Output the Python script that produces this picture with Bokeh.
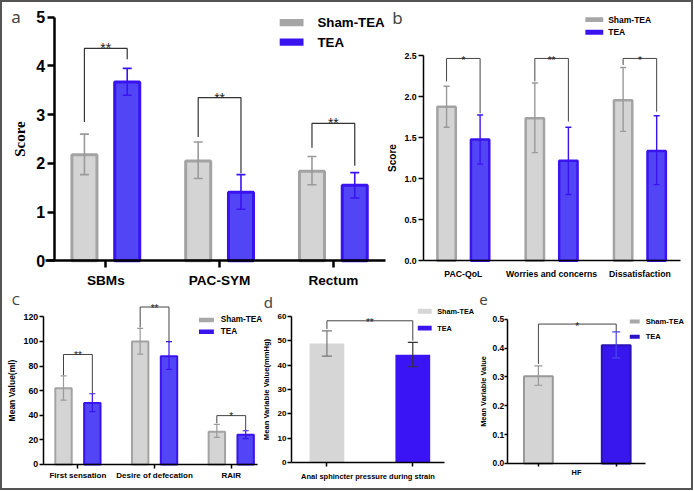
import numpy as np
from bokeh.plotting import figure
from bokeh.models import (ColumnDataSource, Whisker, TeeHead, Label,
                          FixedTicker, NumeralTickFormatter, Range1d)
from bokeh.layouts import column, row
from bokeh.embed import file_html
from bokeh.resources import INLINE
from bokeh.core.properties import value

SANS = "Liberation Sans"
LETTER_FONT = "Noto Sans"

# ---------------- data ----------------
groups = ["Sham-TEA", "TEA"]

a_cats = ["SBMs", "PAC-SYM", "Rectum"]
a_yticks = [0, 1, 2, 3, 4, 5]
a_sham = [2.18, 2.05, 1.84]
a_sham_lo = [1.77, 1.69, 1.56]
a_sham_hi = [2.60, 2.44, 2.14]
a_tea = [3.67, 1.41, 1.55]
a_tea_lo = [3.40, 1.06, 1.29]
a_tea_hi = [3.95, 1.77, 1.81]
a_br_top = [4.36, 3.35, 2.82]
a_br_l = [2.85, 2.54, 2.32]
a_br_r = [4.14, 1.80, 1.95]
a_sig = ["**", "**", "**"]

b_cats = ["PAC-QoL", "Worries and concerns", "Dissatisfaction"]
b_yticks = [0.0, 0.5, 1.0, 1.5, 2.0, 2.5]
b_sham = [1.88, 1.74, 1.96]
b_sham_lo = [1.63, 1.32, 1.58]
b_sham_hi = [2.13, 2.17, 2.36]
b_tea = [1.48, 1.22, 1.34]
b_tea_lo = [1.18, 0.81, 0.93]
b_tea_hi = [1.78, 1.63, 1.77]
b_br_top = [2.47, 2.47, 2.47]
b_br_l = [2.19, 2.19, 2.39]
b_br_r = [1.80, 1.70, 1.82]
b_sig = ["*", "**", "*"]

c_cats = ["First sensation", "Desire of defecation", "RAIR"]
c_yticks = [0, 20, 40, 60, 80, 100, 120]
c_sham = [62.0, 100.0, 26.6]
c_sham_lo = [52.3, 89.7, 22.0]
c_sham_hi = [72.0, 110.6, 32.5]
c_tea = [50.0, 88.0, 24.2]
c_tea_lo = [43.0, 77.3, 21.0]
c_tea_hi = [57.5, 99.8, 27.4]
c_br_top = [89.4, 128.0, 39.7]
c_br_l = [72.5, 111.4, 33.5]
c_br_r = [57.7, 99.3, 28.0]
c_sig = ["**", "**", "*"]

d_xlabel = "Anal sphincter pressure during strain"
d_yticks = [0, 10, 20, 30, 40, 50, 60]
d_vals = [48.8, 44.2]
d_lo = [43.6, 39.3]
d_hi = [54.0, 49.3]
d_br_top, d_br_l, d_br_r = 58.1, 54.7, 50.0
d_sig = "**"

e_xlabel = "HF"
e_yticks = [0.0, 0.1, 0.2, 0.3, 0.4, 0.5]
e_vals = [0.302, 0.410]
e_lo = [0.271, 0.366]
e_hi = [0.338, 0.456]
e_br_top, e_br_l, e_br_r = 0.483, 0.345, 0.456
e_sig = "*"

# ---------------- styles ----------------
SHAM_FILL = "#d4d4d4"
SHAM_LINE = "#a3a3a3"
TEA_FILL = "#5245f5"
TEA_LINE = "#3a14f0"

W, H = 689, 486
SX, SY = W / 694, H / 491
ROW_SPLIT = 291
AB_SPLIT = 386.5
DE_SPLIT = 477


def X(px):
    return int(round(px * SX))


def Y(py):
    return int(round(py * SY))


def make_fig(box, frame, xr, yr):
    """box: panel box in reference px; frame: where the axes sit in reference px;
    xr/yr: data values at the frame edges."""
    x0, y0, x1, y1 = box
    fl, ft, fr, fb = frame

    def dx(px):
        return xr[0] + (px - fl) / (fr - fl) * (xr[1] - xr[0])

    def dy(py):
        return yr[0] + (fb - py) / (fb - ft) * (yr[1] - yr[0])

    p = figure(width=X(x1) - X(x0), height=Y(y1) - Y(y0),
               x_range=Range1d(dx(x0), dx(x1)), y_range=Range1d(dy(y1), dy(y0)),
               min_border_left=0, min_border_right=0, min_border_top=0, min_border_bottom=0,
               output_backend="svg", toolbar_location=None, title=None)
    p.outline_line_color = None
    p.grid.visible = False
    p.background_fill_color = "white"
    p.border_fill_color = "white"
    p.yaxis.fixed_location = xr[0]
    p.xaxis.fixed_location = yr[0]
    return p, dx, dy


def base_axes(p, lw):
    for ax in (p.xaxis[0], p.yaxis[0]):
        ax.axis_line_width = lw
        ax.axis_line_color = "black"
        ax.major_tick_line_width = lw
        ax.major_tick_line_color = "black"
        ax.minor_tick_line_color = None
        ax.major_tick_in = 0
        ax.major_label_text_font = SANS
        ax.major_label_text_font_style = "bold"
        ax.major_label_text_color = "black"
        ax.axis_label_text_font = SANS
        ax.axis_label_text_font_style = "bold"
        ax.axis_label_text_color = "black"


def add_err(p, xs, lo, hi, color, lw, cap):
    src = ColumnDataSource(dict(x=list(xs), lo=list(lo), hi=list(hi)))
    w = Whisker(source=src, base="x", lower="lo", upper="hi", dimension="height",
                line_color=color, line_width=lw, level="overlay",
                upper_head=TeeHead(size=cap, line_color=color, line_width=lw),
                lower_head=TeeHead(size=cap, line_color=color, line_width=lw))
    p.add_layout(w)


def add_brackets(p, xl, xr, top, lb, rb, sig, color, lw, fsize, yoff):
    xs = [[a, a, b, b] for a, b in zip(xl, xr)]
    ys = [[l, t, t, r] for l, t, r in zip(lb, top, rb)]
    p.multi_line(xs=xs, ys=ys, line_color=color, line_width=lw)
    p.text(x=[(a + b) / 2 for a, b in zip(xl, xr)], y=list(top), text=list(sig),
           text_align="center", text_baseline="alphabetic", text_font=value(SANS),
           text_font_size=fsize, y_offset=yoff, text_color="#222222")


def add_legend(p, dx, dy, colors, gx0, gw, gh, row1_cy, row_sp, standoff, fsize):
    cys = [dy(row1_cy), dy(row1_cy + row_sp)]
    p.rect(x=[dx(gx0 + gw / 2)] * 2, y=cys, width=gw * SX, height=gh * SY,
           width_units="screen", height_units="screen", fill_color=colors, line_color=None)
    p.text(x=[dx(gx0 + gw + standoff)] * 2, y=cys, text=groups, text_align="left",
           text_baseline="middle", text_font=value(SANS), text_font_style="bold",
           text_font_size=fsize, text_color="black")


def add_letter(p, dx, dy, cx, cy, txt, size):
    p.add_layout(Label(x=dx(cx), y=dy(cy), text=txt, text_align="center",
                       text_baseline="middle", text_font=LETTER_FONT,
                       text_font_size=size, text_color="#444444"))


def hide_tick_labels(ax):
    ax.major_label_overrides = {0: "", 1: ""}
    ax.major_label_text_color = None
    ax.major_label_text_font_size = "1px"
    ax.major_label_standoff = 0


# ---------------- panel a ----------------
pa, dxa, dya = make_fig((0, 0, AB_SPLIT, ROW_SPLIT), (52, 10, 385, 261), (-0.454, 2.454), (0, 5.10))
base_axes(pa, 2.5)
pa.yaxis.ticker = FixedTicker(ticks=a_yticks)
pa.yaxis.bounds = (0, 5)
pa.yaxis.major_tick_out = 7
pa.yaxis.major_label_standoff = 2
pa.yaxis.major_label_text_font_size = "16px"
pa.yaxis.axis_label = "Score"
pa.yaxis.axis_label_text_font = "Liberation Serif"
pa.yaxis.axis_label_text_font_size = "15px"
pa.yaxis.axis_label_standoff = 6
pa.xaxis.bounds = (dxa(43), 2.454)
pa.xaxis.ticker = FixedTicker(ticks=list(range(len(a_cats))))
pa.xaxis.major_label_overrides = {i: c for i, c in enumerate(a_cats)}
pa.xaxis.major_tick_out = 7
pa.xaxis.major_label_standoff = 5
pa.xaxis.major_label_text_font_size = "13.6px"
ia = np.arange(len(a_cats))
xs_s, xs_t = ia - 0.188, ia + 0.188
pa.vbar(x=xs_s, top=a_sham, width=0.22, fill_color=SHAM_FILL, line_color=SHAM_LINE, line_width=3)
pa.vbar(x=xs_t, top=a_tea, width=0.22, fill_color=TEA_FILL, line_color=TEA_LINE, line_width=3)
add_err(pa, xs_s, a_sham_lo, a_sham_hi, "#9a9a9a", 1.6, 9)
add_err(pa, xs_t, a_tea_lo, a_tea_hi, TEA_LINE, 1.6, 9)
add_brackets(pa, xs_s, xs_t, a_br_top, a_br_l, a_br_r, a_sig, "#333333", 1.2, "14px", 0)
add_legend(pa, dxa, dya, ["#a6a6a6", TEA_LINE], 279, 24, 7.5, 20.3, 19.7, 14, "13.3px")
add_letter(pa, dxa, dya, 13.5, 14, "a", "17px")

# ---------------- panel b ----------------
pb, dxb, dyb = make_fig((AB_SPLIT, 0, 694, ROW_SPLIT), (424, 45, 683, 261), (-0.449, 2.461), (0, 2.609))
base_axes(pb, 1.5)
pb.yaxis.ticker = FixedTicker(ticks=b_yticks)
pb.yaxis.bounds = (0, 2.5)
pb.yaxis.formatter = NumeralTickFormatter(format="0.0")
pb.yaxis.major_tick_out = 5
pb.yaxis.major_label_standoff = 2
pb.yaxis.major_label_text_font_size = "8.8px"
pb.yaxis.axis_label = "Score"
pb.yaxis.axis_label_text_font_size = "10px"
pb.yaxis.axis_label_standoff = 3
pb.xaxis.bounds = (-0.449, 2.461)
pb.xaxis.ticker = FixedTicker(ticks=list(range(len(b_cats))))
pb.xaxis.major_label_overrides = {i: c for i, c in enumerate(b_cats)}
pb.xaxis.major_tick_out = 0
pb.xaxis.major_tick_line_color = None
pb.xaxis.major_label_standoff = 8
pb.xaxis.major_label_text_font_size = "8.7px"
ib = np.arange(len(b_cats))
xb_s, xb_t = ib - 0.19, ib + 0.19
pb.vbar(x=xb_s, top=b_sham, width=0.208, fill_color=SHAM_FILL, line_color=SHAM_LINE, line_width=2.5)
pb.vbar(x=xb_t, top=b_tea, width=0.208, fill_color=TEA_FILL, line_color=TEA_LINE, line_width=2.5)
add_err(pb, xb_s, b_sham_lo, b_sham_hi, "#9a9a9a", 1.4, 6)
add_err(pb, xb_t, b_tea_lo, b_tea_hi, TEA_LINE, 1.4, 6)
add_brackets(pb, xb_s, xb_t, b_br_top, b_br_l, b_br_r, b_sig, "#444444", 1.0, "10px", 2)
add_legend(pb, dxb, dyb, ["#a6a6a6", TEA_LINE], 587, 18, 5, 17.3, 12.7, 5, "8.5px")
add_letter(pb, dxb, dyb, 397.5, 15.5, "b", "17px")

# ---------------- panel c ----------------
pc, dxc, dyc = make_fig((0, ROW_SPLIT, 263, 491), (41, 298, 257, 466.7), (-0.453, 2.343), (0, 135.8))
base_axes(pc, 1.5)
pc.yaxis.ticker = FixedTicker(ticks=c_yticks)
pc.yaxis.bounds = (0, 120)
pc.yaxis.major_tick_out = 4
pc.yaxis.major_label_standoff = 1
pc.yaxis.major_label_text_font_size = "8.8px"
pc.yaxis.axis_label = "Mean Value(ml)"
pc.yaxis.axis_label_text_font_size = "8.5px"
pc.yaxis.axis_label_standoff = 4
pc.xaxis.bounds = (-0.453, 2.343)
pc.xaxis.ticker = FixedTicker(ticks=list(range(len(c_cats))))
pc.xaxis.major_label_overrides = {i: c for i, c in enumerate(c_cats)}
pc.xaxis.major_tick_out = 4
pc.xaxis.major_label_standoff = 3
pc.xaxis.major_label_text_font_size = "8px"
ic = np.arange(len(c_cats))
xc_s, xc_t = ic - 0.188, ic + 0.188
pc.vbar(x=xc_s, top=c_sham, width=0.214, fill_color=SHAM_FILL, line_color=SHAM_LINE, line_width=2)
pc.vbar(x=xc_t, top=c_tea, width=0.214, fill_color=TEA_FILL, line_color=TEA_LINE, line_width=2)
add_err(pc, xc_s, c_sham_lo, c_sham_hi, "#9a9a9a", 1.2, 6)
add_err(pc, xc_t, c_tea_lo, c_tea_hi, TEA_LINE, 1.2, 6)
add_brackets(pc, xc_s, xc_t, c_br_top, c_br_l, c_br_r, c_sig, "#444444", 1.0, "10px", 1)
add_legend(pc, dxc, dyc, ["#a8a8a8", TEA_LINE], 198, 15, 4.5, 320.7, 12, 7, "8.2px")
add_letter(pc, dxc, dyc, 13.5, 301, "C", "13px")

# ---------------- panel d ----------------
pd, dxd, dyd = make_fig((263, ROW_SPLIT, DE_SPLIT, 491), (291, 310, 445, 465), (-0.414, 1.371), (0, 62.8))
base_axes(pd, 1.5)
pd.yaxis.ticker = FixedTicker(ticks=d_yticks)
pd.yaxis.bounds = (0, 60)
pd.yaxis.major_tick_out = 4
pd.yaxis.major_label_standoff = 1
pd.yaxis.major_label_text_font_size = "8px"
pd.yaxis.axis_label = "Mean Variable Value(mmHg)"
pd.yaxis.axis_label_text_font_size = "7.6px"
pd.yaxis.axis_label_standoff = 4
pd.xaxis.bounds = (-0.414, 1.371)
pd.xaxis.ticker = FixedTicker(ticks=[0, 1])
hide_tick_labels(pd.xaxis[0])
pd.xaxis.major_tick_out = 4
pd.xaxis.axis_label = d_xlabel
pd.xaxis.axis_label_text_font_size = "7.5px"
pd.xaxis.axis_label_standoff = 5
idd = np.arange(len(d_vals))
pd.vbar(x=idd, top=d_vals, width=0.405, fill_color=["#d6d6d6", "#3a14f5"], line_color=None)
add_err(pd, idd[:1], d_lo[:1], d_hi[:1], "#777777", 1.2, 10)
add_err(pd, idd[1:], d_lo[1:], d_hi[1:], "#333333", 1.2, 10)
add_brackets(pd, [idd[0]], [idd[1]], [d_br_top], [d_br_l], [d_br_r], [d_sig], "#444444", 1.0, "10px", 1.5)
add_legend(pd, dxd, dyd, ["#d6d6d6", "#3a14f5"], 418, 14, 5, 312, 17, 5.5, "7.3px")
add_letter(pd, dxd, dyd, 268, 302.5, "d", "15px")

# ---------------- panel e ----------------
pe, dxe, dye = make_fig((DE_SPLIT, ROW_SPLIT, 694, 491), (508, 315, 648, 465.7), (-0.401, 1.382), (0, 0.517))
base_axes(pe, 1.5)
pe.yaxis.ticker = FixedTicker(ticks=e_yticks)
pe.yaxis.bounds = (0, 0.5)
pe.yaxis.formatter = NumeralTickFormatter(format="0.0")
pe.yaxis.major_tick_out = 3
pe.yaxis.major_label_standoff = 0
pe.yaxis.major_label_text_font_size = "8.4px"
pe.yaxis.axis_label = "Mean Variable Value"
pe.yaxis.axis_label_text_font_size = "7.4px"
pe.yaxis.axis_label_standoff = 2
pe.xaxis.bounds = (-0.401, 1.382)
pe.xaxis.ticker = FixedTicker(ticks=[0, 1])
hide_tick_labels(pe.xaxis[0])
pe.xaxis.major_tick_out = 3
pe.xaxis.axis_label = e_xlabel
pe.xaxis.axis_label_text_font_size = "7.4px"
pe.xaxis.axis_label_standoff = 1
ie = np.arange(len(e_vals))
pe.vbar(x=ie, top=e_vals, width=0.37, fill_color=[SHAM_FILL, "#3816ee"],
        line_color=["#999999", "#2a12b8"], line_width=2)
add_err(pe, ie[:1], e_lo[:1], e_hi[:1], "#999999", 1.2, 8)
add_err(pe, ie[1:], e_lo[1:], e_hi[1:], "#4a44ee", 1.2, 8)
add_brackets(pe, [ie[0]], [ie[1]], [e_br_top], [e_br_l], [e_br_r], [e_sig], "#444444", 1.0, "10px", 2)
add_legend(pe, dxe, dye, ["#a8a8a8", "#2a12c8"], 631.7, 10, 4, 322.3, 15.4, 6, "7.6px")
add_letter(pe, dxe, dye, 484, 301, "e", "15px")

layout = column(row(pa, pb), row(pc, pd, pe),
                styles={"border": "2px solid #555555"})

open("out.html", "w").write(file_html(layout, INLINE))
